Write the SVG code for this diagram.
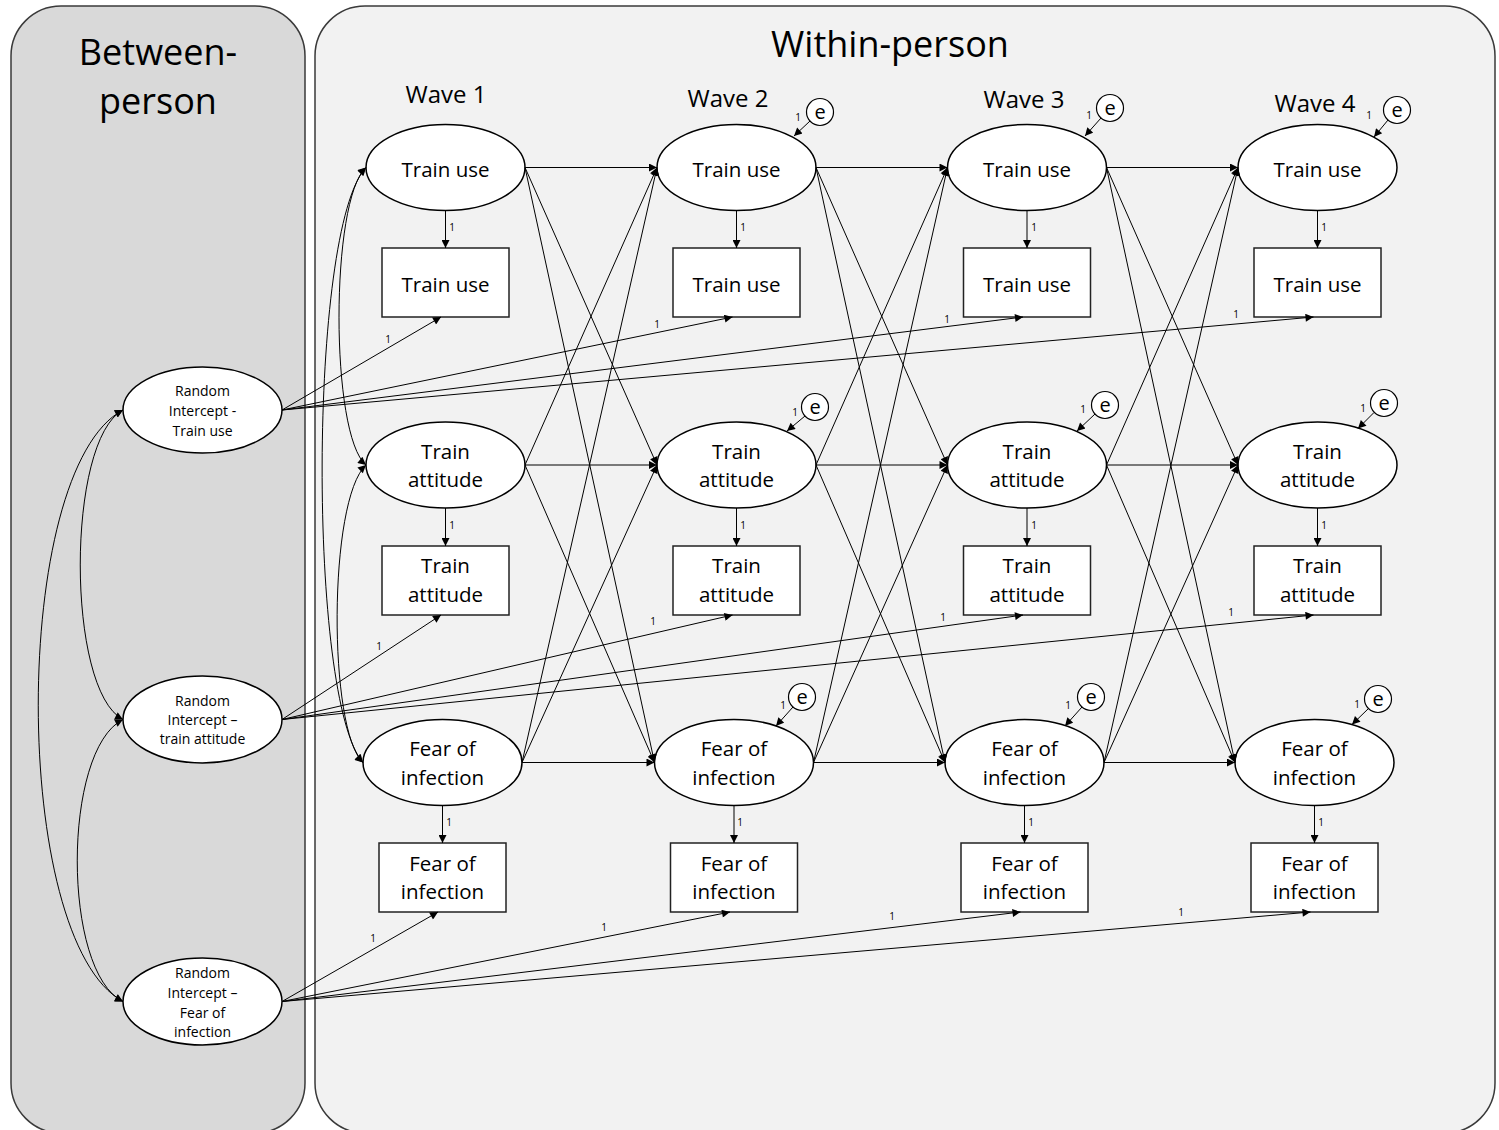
<svg xmlns="http://www.w3.org/2000/svg" width="1499" height="1130" viewBox="0 0 1499 1130">
<defs>
<marker id="ah" viewBox="0 0 10 10" refX="10" refY="5" markerWidth="10" markerHeight="8" markerUnits="userSpaceOnUse" orient="auto-start-reverse"><path d="M0,0 L10,5 L0,10 z" fill="#000"/></marker>
<style>
text{font-family:"Open Sans","Liberation Sans",sans-serif;fill:#000;text-anchor:middle}
.title{font-size:36px}
.wave{font-size:24px}
.lbl{font-size:20.5px}
.ri{font-size:14px}
.one{font-size:10px}
.ee{font-size:20px}
.node{fill:#fff;stroke:#000;stroke-width:1.5}
.obs{fill:#fff;stroke:#222;stroke-width:1.5}
.err{fill:#fff;stroke:#000;stroke-width:1.2}
.c line,.c path{stroke:#000;stroke-width:1;fill:none;marker-end:url(#ah)}
.c .dbl{marker-start:url(#ah)}
</style>
</defs>
<rect x="0" y="0" width="1499" height="1130" fill="#fff"/>
<g id="panel-between"><rect x="11" y="6" width="294" height="1127" rx="50" fill="#d9d9d9" stroke="#3a3a3a" stroke-width="1.5"/>
<text class="title" x="158" y="65">Between-</text><text class="title" x="158" y="114">person</text></g>
<g id="panel-within"><rect x="315" y="6" width="1180" height="1127" rx="50" fill="#f2f2f2" stroke="#3a3a3a" stroke-width="1.5"/>
<text class="title" x="890" y="57">Within-person</text></g>
<g id="wave-labels"><text class="wave" x="446" y="103">Wave 1</text><text class="wave" x="728" y="107">Wave 2</text><text class="wave" x="1024" y="108">Wave 3</text><text class="wave" x="1315" y="112">Wave 4</text></g>

<g id="ri-train-use"><ellipse class="node" cx="202.5" cy="410" rx="79.5" ry="43"/><text class="ri" x="202.5" y="396">Random</text><text class="ri" x="202.5" y="416">Intercept -</text><text class="ri" x="202.5" y="436">Train use</text></g>
<g id="ri-train-attitude"><ellipse class="node" cx="202.5" cy="719.5" rx="79.5" ry="43.5"/><text class="ri" x="202.5" y="706">Random</text><text class="ri" x="202.5" y="725">Intercept –</text><text class="ri" x="202.5" y="744">train attitude</text></g>
<g id="ri-fear"><ellipse class="node" cx="202.5" cy="1001.5" rx="79.5" ry="43.5"/><text class="ri" x="202.5" y="978">Random</text><text class="ri" x="202.5" y="998">Intercept –</text><text class="ri" x="202.5" y="1018">Fear of</text><text class="ri" x="202.5" y="1037">infection</text></g>

<g id="tu1"><ellipse class="node" cx="445.5" cy="167.5" rx="79.5" ry="43"/><text class="lbl" x="445.5" y="177">Train use</text></g>
<g id="tu2"><ellipse class="node" cx="736.5" cy="167.5" rx="79.5" ry="43"/><text class="lbl" x="736.5" y="177">Train use</text></g>
<g id="tu3"><ellipse class="node" cx="1027" cy="167.5" rx="79.5" ry="43"/><text class="lbl" x="1027" y="177">Train use</text></g>
<g id="tu4"><ellipse class="node" cx="1317.5" cy="167.5" rx="79.5" ry="43"/><text class="lbl" x="1317.5" y="177">Train use</text></g>
<g id="tu1-obs"><rect class="obs" x="382" y="248" width="127" height="69"/><text class="lbl" x="445.5" y="292">Train use</text></g>
<g id="tu2-obs"><rect class="obs" x="673" y="248" width="127" height="69"/><text class="lbl" x="736.5" y="292">Train use</text></g>
<g id="tu3-obs"><rect class="obs" x="963.5" y="248" width="127" height="69"/><text class="lbl" x="1027" y="292">Train use</text></g>
<g id="tu4-obs"><rect class="obs" x="1254" y="248" width="127" height="69"/><text class="lbl" x="1317.5" y="292">Train use</text></g>

<g id="ta1"><ellipse class="node" cx="445.5" cy="465" rx="79.5" ry="43"/><text class="lbl" x="445.5" y="458.5">Train</text><text class="lbl" x="445.5" y="487">attitude</text></g>
<g id="ta2"><ellipse class="node" cx="736.5" cy="465" rx="79.5" ry="43"/><text class="lbl" x="736.5" y="458.5">Train</text><text class="lbl" x="736.5" y="487">attitude</text></g>
<g id="ta3"><ellipse class="node" cx="1027" cy="465" rx="79.5" ry="43"/><text class="lbl" x="1027" y="458.5">Train</text><text class="lbl" x="1027" y="487">attitude</text></g>
<g id="ta4"><ellipse class="node" cx="1317.5" cy="465" rx="79.5" ry="43"/><text class="lbl" x="1317.5" y="458.5">Train</text><text class="lbl" x="1317.5" y="487">attitude</text></g>
<g id="ta1-obs"><rect class="obs" x="382" y="546" width="127" height="69"/><text class="lbl" x="445.5" y="573">Train</text><text class="lbl" x="445.5" y="602">attitude</text></g>
<g id="ta2-obs"><rect class="obs" x="673" y="546" width="127" height="69"/><text class="lbl" x="736.5" y="573">Train</text><text class="lbl" x="736.5" y="602">attitude</text></g>
<g id="ta3-obs"><rect class="obs" x="963.5" y="546" width="127" height="69"/><text class="lbl" x="1027" y="573">Train</text><text class="lbl" x="1027" y="602">attitude</text></g>
<g id="ta4-obs"><rect class="obs" x="1254" y="546" width="127" height="69"/><text class="lbl" x="1317.5" y="573">Train</text><text class="lbl" x="1317.5" y="602">attitude</text></g>

<g id="fi1"><ellipse class="node" cx="442.5" cy="762.5" rx="79.5" ry="43"/><text class="lbl" x="442.5" y="756">Fear of</text><text class="lbl" x="442.5" y="784.5">infection</text></g>
<g id="fi2"><ellipse class="node" cx="734" cy="762.5" rx="79.5" ry="43"/><text class="lbl" x="734" y="756">Fear of</text><text class="lbl" x="734" y="784.5">infection</text></g>
<g id="fi3"><ellipse class="node" cx="1024.5" cy="762.5" rx="79.5" ry="43"/><text class="lbl" x="1024.5" y="756">Fear of</text><text class="lbl" x="1024.5" y="784.5">infection</text></g>
<g id="fi4"><ellipse class="node" cx="1314.5" cy="762.5" rx="79.5" ry="43"/><text class="lbl" x="1314.5" y="756">Fear of</text><text class="lbl" x="1314.5" y="784.5">infection</text></g>
<g id="fi1-obs"><rect class="obs" x="379" y="843" width="127" height="69"/><text class="lbl" x="442.5" y="871">Fear of</text><text class="lbl" x="442.5" y="899">infection</text></g>
<g id="fi2-obs"><rect class="obs" x="670.5" y="843" width="127" height="69"/><text class="lbl" x="734" y="871">Fear of</text><text class="lbl" x="734" y="899">infection</text></g>
<g id="fi3-obs"><rect class="obs" x="961" y="843" width="127" height="69"/><text class="lbl" x="1024.5" y="871">Fear of</text><text class="lbl" x="1024.5" y="899">infection</text></g>
<g id="fi4-obs"><rect class="obs" x="1251" y="843" width="127" height="69"/><text class="lbl" x="1314.5" y="871">Fear of</text><text class="lbl" x="1314.5" y="899">infection</text></g>

<g id="errors">
<g id="e-tu2"><circle class="err" cx="820" cy="112" r="13.5"/><text class="ee" x="820" y="118.5">e</text></g>
<g id="e-tu3"><circle class="err" cx="1110" cy="108" r="13.5"/><text class="ee" x="1110" y="114.5">e</text></g>
<g id="e-tu4"><circle class="err" cx="1397" cy="110" r="13.5"/><text class="ee" x="1397" y="116.5">e</text></g>
<g id="e-ta2"><circle class="err" cx="815" cy="407" r="13.5"/><text class="ee" x="815" y="413.5">e</text></g>
<g id="e-ta3"><circle class="err" cx="1105" cy="405" r="13.5"/><text class="ee" x="1105" y="411.5">e</text></g>
<g id="e-ta4"><circle class="err" cx="1384" cy="403" r="13.5"/><text class="ee" x="1384" y="409.5">e</text></g>
<g id="e-fi2"><circle class="err" cx="802" cy="697" r="13.5"/><text class="ee" x="802" y="703.5">e</text></g>
<g id="e-fi3"><circle class="err" cx="1091" cy="697" r="13.5"/><text class="ee" x="1091" y="703.5">e</text></g>
<g id="e-fi4"><circle class="err" cx="1378" cy="699" r="13.5"/><text class="ee" x="1378" y="705.5">e</text></g>
</g>

<g id="connectors" class="c">
<!-- between-person covariances -->
<path class="dbl" d="M123,410 C66,440 66,690 123,719.5"/>
<path class="dbl" d="M123,719.5 C62,750 62,972 123,1001.5"/>
<path class="dbl" d="M123,410 C10,470 10,940 123,1001.5"/>
<!-- wave 1 covariances -->
<path class="dbl" d="M366,167.5 C330,200 330,435 366,465"/>
<path class="dbl" d="M366,465 C328,500 328,730 363,762.5"/>
<path class="dbl" d="M366,167.5 C308,230 308,700 363,762.5"/>
<!-- loadings latent to observed -->
<line x1="445.5" y1="210.5" x2="445.5" y2="248"/><line x1="736.5" y1="210.5" x2="736.5" y2="248"/><line x1="1027" y1="210.5" x2="1027" y2="248"/><line x1="1317.5" y1="210.5" x2="1317.5" y2="248"/>
<line x1="445.5" y1="508" x2="445.5" y2="546"/><line x1="736.5" y1="508" x2="736.5" y2="546"/><line x1="1027" y1="508" x2="1027" y2="546"/><line x1="1317.5" y1="508" x2="1317.5" y2="546"/>
<line x1="442.5" y1="805.5" x2="442.5" y2="843"/><line x1="734" y1="805.5" x2="734" y2="843"/><line x1="1024.5" y1="805.5" x2="1024.5" y2="843"/><line x1="1314.5" y1="805.5" x2="1314.5" y2="843"/>
<!-- random intercept loadings -->
<line x1="282" y1="410" x2="441" y2="317"/><line x1="282" y1="410" x2="732.5" y2="317"/><line x1="282" y1="410" x2="1023" y2="317"/><line x1="282" y1="410" x2="1313.5" y2="317"/>
<line x1="282" y1="719.5" x2="441" y2="615"/><line x1="282" y1="719.5" x2="732.5" y2="615"/><line x1="282" y1="719.5" x2="1023" y2="615"/><line x1="282" y1="719.5" x2="1313.5" y2="615"/>
<line x1="282" y1="1001.5" x2="438" y2="912"/><line x1="282" y1="1001.5" x2="730" y2="912"/><line x1="282" y1="1001.5" x2="1020.5" y2="912"/><line x1="282" y1="1001.5" x2="1310.5" y2="912"/>
<!-- wave 1 to wave 2 -->
<line x1="525" y1="167.5" x2="657" y2="167.5"/><line x1="525" y1="167.5" x2="657" y2="465"/><line x1="525" y1="167.5" x2="654.5" y2="762.5"/>
<line x1="525" y1="465" x2="657" y2="167.5"/><line x1="525" y1="465" x2="657" y2="465"/><line x1="525" y1="465" x2="654.5" y2="762.5"/>
<line x1="522" y1="762.5" x2="657" y2="167.5"/><line x1="522" y1="762.5" x2="657" y2="465"/><line x1="522" y1="762.5" x2="654.5" y2="762.5"/>
<!-- wave 2 to wave 3 -->
<line x1="816" y1="167.5" x2="947.5" y2="167.5"/><line x1="816" y1="167.5" x2="947.5" y2="465"/><line x1="816" y1="167.5" x2="945" y2="762.5"/>
<line x1="816" y1="465" x2="947.5" y2="167.5"/><line x1="816" y1="465" x2="947.5" y2="465"/><line x1="816" y1="465" x2="945" y2="762.5"/>
<line x1="813.5" y1="762.5" x2="947.5" y2="167.5"/><line x1="813.5" y1="762.5" x2="947.5" y2="465"/><line x1="813.5" y1="762.5" x2="945" y2="762.5"/>
<!-- wave 3 to wave 4 -->
<line x1="1106.5" y1="167.5" x2="1238" y2="167.5"/><line x1="1106.5" y1="167.5" x2="1238" y2="465"/><line x1="1106.5" y1="167.5" x2="1235" y2="762.5"/>
<line x1="1106.5" y1="465" x2="1238" y2="167.5"/><line x1="1106.5" y1="465" x2="1238" y2="465"/><line x1="1106.5" y1="465" x2="1235" y2="762.5"/>
<line x1="1104" y1="762.5" x2="1238" y2="167.5"/><line x1="1104" y1="762.5" x2="1238" y2="465"/><line x1="1104" y1="762.5" x2="1235" y2="762.5"/>
<!-- error arrows -->
<line x1="810" y1="121" x2="794" y2="136"/><line x1="1101" y1="118" x2="1085" y2="136"/><line x1="1388" y1="120" x2="1374" y2="137"/>
<line x1="805" y1="416" x2="787" y2="431"/><line x1="1095" y1="414" x2="1077" y2="431"/><line x1="1374" y1="412.5" x2="1358" y2="428.5"/>
<line x1="793" y1="707" x2="776" y2="726"/><line x1="1082" y1="707" x2="1065" y2="726"/><line x1="1368.5" y1="708.5" x2="1352" y2="724.5"/>
</g>

<g id="path-labels">
<text class="one" x="452" y="231">1</text><text class="one" x="743" y="231">1</text><text class="one" x="1034" y="231">1</text><text class="one" x="1324" y="231">1</text>
<text class="one" x="452" y="529">1</text><text class="one" x="743" y="529">1</text><text class="one" x="1034" y="529">1</text><text class="one" x="1324" y="529">1</text>
<text class="one" x="449" y="826">1</text><text class="one" x="740" y="826">1</text><text class="one" x="1031" y="826">1</text><text class="one" x="1321" y="826">1</text>
<text class="one" x="388" y="343">1</text><text class="one" x="657" y="328">1</text><text class="one" x="947" y="323">1</text><text class="one" x="1236" y="318">1</text>
<text class="one" x="379" y="650">1</text><text class="one" x="653" y="625">1</text><text class="one" x="943" y="621">1</text><text class="one" x="1231" y="616">1</text>
<text class="one" x="373" y="942">1</text><text class="one" x="604" y="931">1</text><text class="one" x="892" y="920">1</text><text class="one" x="1181" y="916">1</text>
<text class="one" x="798" y="121">1</text><text class="one" x="1089" y="119">1</text><text class="one" x="1369" y="119">1</text>
<text class="one" x="795" y="416">1</text><text class="one" x="1083" y="413">1</text><text class="one" x="1363" y="412">1</text>
<text class="one" x="783" y="709">1</text><text class="one" x="1068" y="709">1</text><text class="one" x="1357" y="708">1</text>
</g>
</svg>
